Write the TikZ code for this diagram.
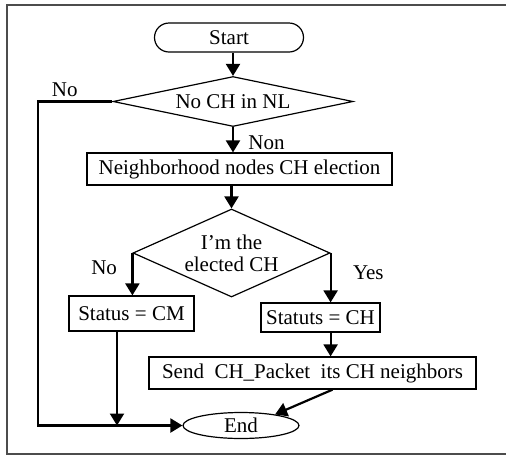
\documentclass[tikz,border=0pt]{standalone}
\usepackage{fontspec}
\setmainfont{Liberation Serif}
\usetikzlibrary{shapes.geometric,arrows.meta}

\begin{document}
\begin{tikzpicture}[x=1pt,y=-1pt,
    every node/.style={font=\fontsize{21}{22}\selectfont},
    box/.style={draw,line width=1.2pt,inner sep=0pt},
    cond/.style={draw,shape=diamond,line width=1.2pt,inner sep=0pt,align=center},
    arr/.style={line width=2.2pt,-{Triangle[length=12pt,width=14pt]}}]
    \useasboundingbox (0,0) rectangle (506,459);

    % Frame
    \draw[line width=1.8pt,black!70] (510,5) -- (7,5) -- (7,454) -- (510,454);

    % Start
    \node[box,rounded corners=14.5pt,minimum width=149pt,minimum height=29pt] (start) at (229,37.5) {Start};

    % Decisions
    \node[cond,aspect=4.8,minimum width=240pt,minimum height=50pt] (nl) at (233,101.5) {No CH in NL};
    \node[cond,aspect=2.24,minimum width=197pt,minimum height=88pt] (elect) at (231.5,253) {I'm the\\elected CH};

    % Boxes
    \node[box,minimum width=305pt,minimum height=32pt] (vote) at (239.5,169) {Neighborhood nodes CH election};
    \node[box,minimum width=125pt,minimum height=35pt] (cm) at (131.5,313.5) {Status = CM};
    \node[box,minimum width=119pt,minimum height=29pt] (ch) at (320.5,317.5) {Statuts = CH};
    \node[box,minimum width=327pt,minimum height=32pt] (send) at (312.5,373) {Send~ CH\_Packet~ its CH neighbors};

    % End
    \node[draw,ellipse,line width=1.2pt,minimum width=116pt,minimum height=26pt,inner sep=0pt] (end) at (241,425.5) {End};

    \coordinate (back) at (38,101.5);
    \coordinate (join) at (117,425.5);

    % Arrows
    \draw[arr] (nl.north |- start.south) -- (nl.north);
    \draw[arr] (nl.south) -- node[pos=0.6,right=11pt]{Non} (nl.south |- vote.north);
    \draw[arr] (elect.north |- vote.south) -- (elect.north);
    \draw[arr] (elect.west) -- node[pos=0.35,left=11pt]{No} (elect.west |- cm.north);
    \draw[arr] (elect.east) -- node[pos=0.4,right=18pt]{Yes} (elect.east |- ch.north);
    \draw[arr] (elect.east |- ch.south) -- (elect.east |- send.north);
    \draw[arr] ([xshift=2pt]elect.east |- send.south) -- (end.18);
    \draw[arr] (join |- cm.south) -- (join);
    \draw[arr] (nl.west) -- node[pos=0.64,above]{No} (back) |- (end.west);
\end{tikzpicture}
\end{document}
